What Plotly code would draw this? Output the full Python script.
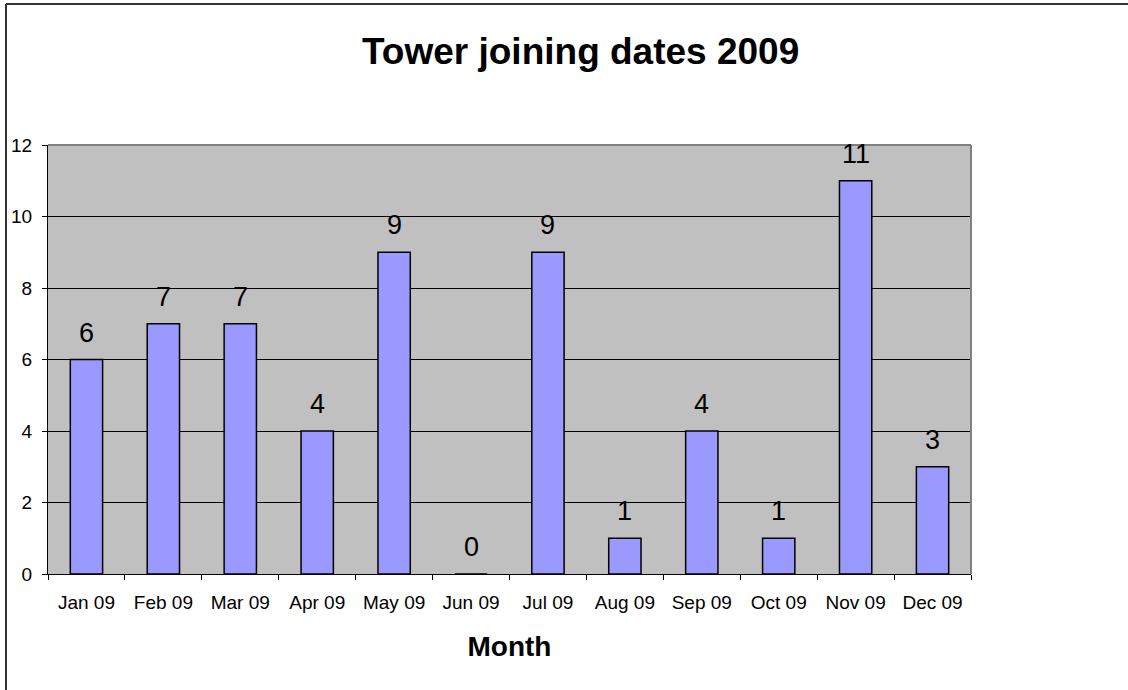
import plotly.graph_objects as go

months = ["Jan 09", "Feb 09", "Mar 09", "Apr 09", "May 09", "Jun 09",
          "Jul 09", "Aug 09", "Sep 09", "Oct 09", "Nov 09", "Dec 09"]
joins = [6, 7, 7, 4, 9, 0, 9, 1, 4, 1, 11, 3]
y_ticks = [0, 2, 4, 6, 8, 10, 12]

FONT = "Arial, Liberation Sans, sans-serif"

fig = go.Figure()
fig.add_trace(go.Bar(
    x=months, y=joins,
    width=0.42,
    marker=dict(color="#9999FF", line=dict(color="black", width=1.5)),
    hoverinfo="x+y",
))

W, H = 1128, 690
L, R, T, B = 48, 157, 145, 116
pw, ph = W - L - R, H - T - B

def px2x(px):
    return (px - L) / pw

def py2y(py):
    return (H - B - py) / ph

annotations = [
    dict(text="<b>Tower joining dates 2009</b>", xref="paper", yref="paper",
         x=px2x(580), y=py2y(52), xanchor="center", yanchor="middle",
         showarrow=False, font=dict(family=FONT, size=37, color="black")),
]
for m, v in zip(months, joins):
    annotations.append(dict(
        x=m, y=v, xref="x", yref="y", text=str(v), showarrow=False,
        xanchor="center", yanchor="bottom", yshift=10,
        font=dict(family=FONT, size=27, color="black"),
    ))

fig.update_layout(
    width=W, height=H,
    margin=dict(l=L, r=R, t=T, b=B, pad=0),
    paper_bgcolor="white",
    plot_bgcolor="#C0C0C0",
    showlegend=False,
    font=dict(family=FONT, color="black"),
    xaxis=dict(
        type="category", range=[-0.5, 11.5],
        tickson="boundaries", ticks="outside", ticklen=5, tickcolor="black",
        showline=True, linecolor="black", linewidth=1,
        showgrid=False,
        tickfont=dict(family=FONT, size=19, color="black"),
        ticklabelstandoff=11,
        title=dict(text="<b>Month</b>", font=dict(family=FONT, size=28, color="black"), standoff=24),
    ),
    yaxis=dict(
        range=[0, 12], tickvals=y_ticks,
        ticks="outside", ticklen=5, tickcolor="black",
        showline=True, linecolor="black", linewidth=1,
        showgrid=True, gridcolor="black", gridwidth=1,
        zeroline=False,
        tickfont=dict(family=FONT, size=19, color="black"),
        ticklabelstandoff=6,
    ),
    shapes=[
        dict(type="line", xref="paper", yref="paper", x0=0, x1=1, y0=1, y1=1,
             line=dict(color="#808080", width=2), layer="above"),
        dict(type="line", xref="paper", yref="paper", x0=1, x1=1, y0=0, y1=1,
             line=dict(color="#808080", width=2), layer="above"),
        dict(type="line", xref="paper", yref="paper", x0=px2x(6), x1=px2x(1130),
             y0=py2y(4), y1=py2y(4), line=dict(color="#333333", width=2), layer="above"),
        dict(type="line", xref="paper", yref="paper", x0=px2x(6), x1=px2x(6),
             y0=py2y(4), y1=py2y(692), line=dict(color="#333333", width=2), layer="above"),
    ],
    annotations=annotations,
)

fig.write_html("out.html", config={"displayModeBar": False},
               post_script="document.body.style.margin='0';document.body.style.overflow='hidden';")
